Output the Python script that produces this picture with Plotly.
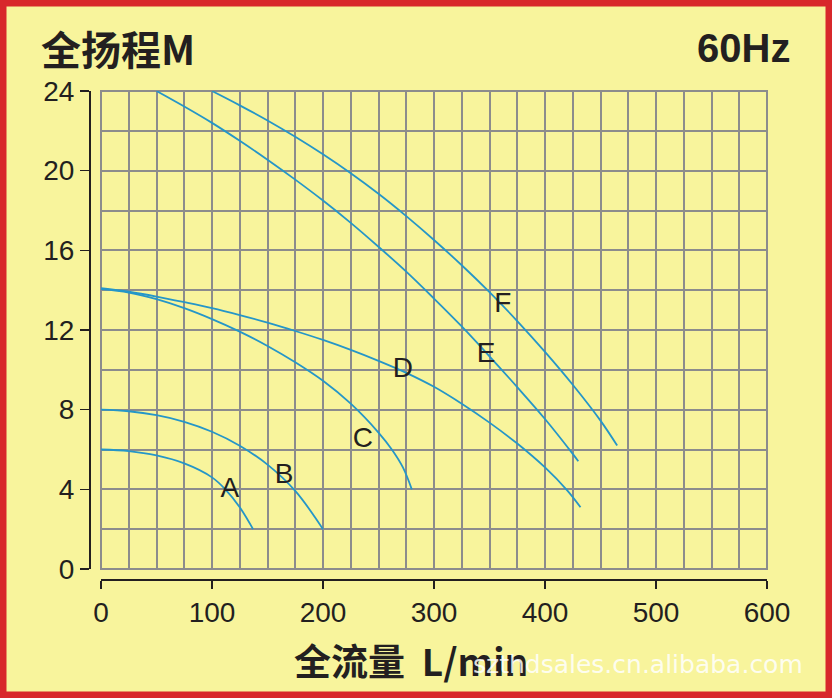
import plotly.graph_objects as go

# ---- data ----
a_x = [0, 25, 50, 75, 100, 112, 125, 137]
a_y = [6.0, 5.92, 5.7, 5.3, 4.6, 4.0, 3.1, 2.0]

b_x = [0, 25, 50, 75, 100, 125, 150, 175, 200]
b_y = [8.0, 7.92, 7.72, 7.39, 6.89, 6.19, 5.24, 3.92, 2.0]

c_x = [0, 25, 50, 75, 100, 125, 150, 175, 200, 225, 250, 262, 272, 280]
c_y = [14.05, 13.88, 13.55, 13.1, 12.55, 11.92, 11.2, 10.38, 9.45, 8.3, 6.85, 6.0, 5.1, 4.0]

d_x = [0, 25, 50, 75, 100, 125, 150, 175, 200, 225, 250, 275, 300, 325, 350, 375, 400, 420, 432]
d_y = [14.1, 13.92, 13.68, 13.4, 13.1, 12.75, 12.37, 11.95, 11.5, 11.0, 10.45, 9.85, 9.15, 8.3,
       7.35, 6.3, 5.1, 3.95, 3.1]

e_x = [50, 75, 100, 125, 150, 175, 200, 225, 250, 275, 300, 325, 350, 375, 400, 425, 430]
e_y = [24.0, 23.22, 22.4, 21.5, 20.55, 19.55, 18.5, 17.38, 16.18, 14.93, 13.58, 12.18, 10.68,
       9.13, 7.53, 5.78, 5.41]

f_x = [100, 125, 150, 175, 200, 225, 250, 275, 300, 325, 350, 375, 400, 425, 450, 465]
f_y = [24.0, 23.28, 22.52, 21.7, 20.82, 19.87, 18.84, 17.72, 16.52, 15.25, 13.9, 12.45, 10.9,
       9.25, 7.45, 6.2]

label_text = ["A", "B", "C", "D", "E", "F"]
label_x = [116, 165, 236, 272, 347, 362]
label_y = [3.97, 4.67, 6.48, 10.0, 10.75, 13.27]

x_ticks = [0, 100, 200, 300, 400, 500, 600]
y_ticks = [0, 4, 8, 12, 16, 20, 24]

# ---- styling ----
W, H = 832, 698
BG = "#F8F49C"
GRID = "#8C8C8C"
CURVE = "#2596C8"
DARK = "#231F20"
NUM_FONT = "Liberation Sans, Arial, sans-serif"
CJK_FONT = "Noto Sans CJK SC, sans-serif"

fig = go.Figure()
for xs, ys in [(a_x, a_y), (b_x, b_y), (c_x, c_y), (d_x, d_y), (e_x, e_y), (f_x, f_y)]:
    fig.add_trace(go.Scatter(x=xs, y=ys, mode="lines",
                             line=dict(color=CURVE, width=1.8, shape="spline", smoothing=1.0),
                             hoverinfo="skip", showlegend=False))

fig.add_trace(go.Scatter(x=label_x, y=label_y, mode="text", text=label_text,
                         textfont=dict(family=NUM_FONT, size=28, color=DARK),
                         hoverinfo="skip", showlegend=False))

x0, x1 = 101 / W, 767 / W
y0, y1 = (H - 569) / H, (H - 91) / H

fig.update_layout(
    width=W, height=H,
    autosize=False,
    margin=dict(l=0, r=0, t=0, b=0, pad=0, autoexpand=False),
    paper_bgcolor=BG, plot_bgcolor=BG,
    showlegend=False,
    xaxis=dict(domain=[x0, x1], range=[0, 600], anchor="free", position=(H - 579) / H,
               automargin=False,
               tickvals=x_ticks, ticks="outside", ticklen=8, tickwidth=1.5, tickcolor=DARK,
               showline=True, linecolor=DARK, linewidth=1.5,
               showgrid=True, gridcolor=GRID, gridwidth=2, zeroline=False,
               minor=dict(dtick=25, showgrid=True, gridcolor=GRID, gridwidth=2, ticks=""),
               tickfont=dict(family=NUM_FONT, size=28, color=DARK), fixedrange=True),
    yaxis=dict(domain=[y0, y1], range=[0, 24], anchor="free", position=89 / W,
               automargin=False,
               tickvals=y_ticks, ticks="outside", ticklen=9, tickwidth=1.5, tickcolor=DARK,
               showline=True, linecolor=DARK, linewidth=1.5,
               showgrid=True, gridcolor=GRID, gridwidth=2, zeroline=False,
               minor=dict(dtick=2, showgrid=True, gridcolor=GRID, gridwidth=2, ticks=""),
               tickfont=dict(family=NUM_FONT, size=28, color=DARK), fixedrange=True),
    shapes=[
        dict(type="rect", xref="x domain", yref="y domain", x0=0, x1=1, y0=0, y1=1,
             line=dict(color=GRID, width=2), layer="below"),
        dict(type="rect", xref="paper", yref="paper", x0=0, x1=1, y0=0, y1=1,
             line=dict(color="#D8282B", width=13)),
    ],
    annotations=[
        dict(text="<b>全扬程M</b>", x=39 / W, y=1 - 48 / H, xref="paper", yref="paper",
             xanchor="left", yanchor="middle", showarrow=False,
             font=dict(family=CJK_FONT, size=40, color=DARK)),
        dict(text="<b>60Hz</b>", x=792 / W, y=1 - 48 / H, xref="paper", yref="paper",
             xanchor="right", yanchor="middle", showarrow=False,
             font=dict(family=NUM_FONT, size=40, color=DARK)),
        dict(text="<b>全流量  L/min</b>", x=292 / W, y=1 - 660 / H, xref="paper", yref="paper",
             xanchor="left", yanchor="middle", showarrow=False,
             font=dict(family=CJK_FONT, size=37, color=DARK)),
        dict(text="szthdsales.cn.alibaba.com", x=805 / W, y=1 - 664 / H, xref="paper", yref="paper",
             xanchor="right", yanchor="middle", showarrow=False,
             font=dict(family="DejaVu Sans, sans-serif", size=25, color="rgba(255,255,255,0.85)")),
    ],
)

fig.write_html(
    "out.html",
    config={"displayModeBar": False, "staticPlot": True},
    post_script="document.body.style.margin='0';document.body.style.padding='0';"
                "document.body.style.overflow='hidden';",
)
